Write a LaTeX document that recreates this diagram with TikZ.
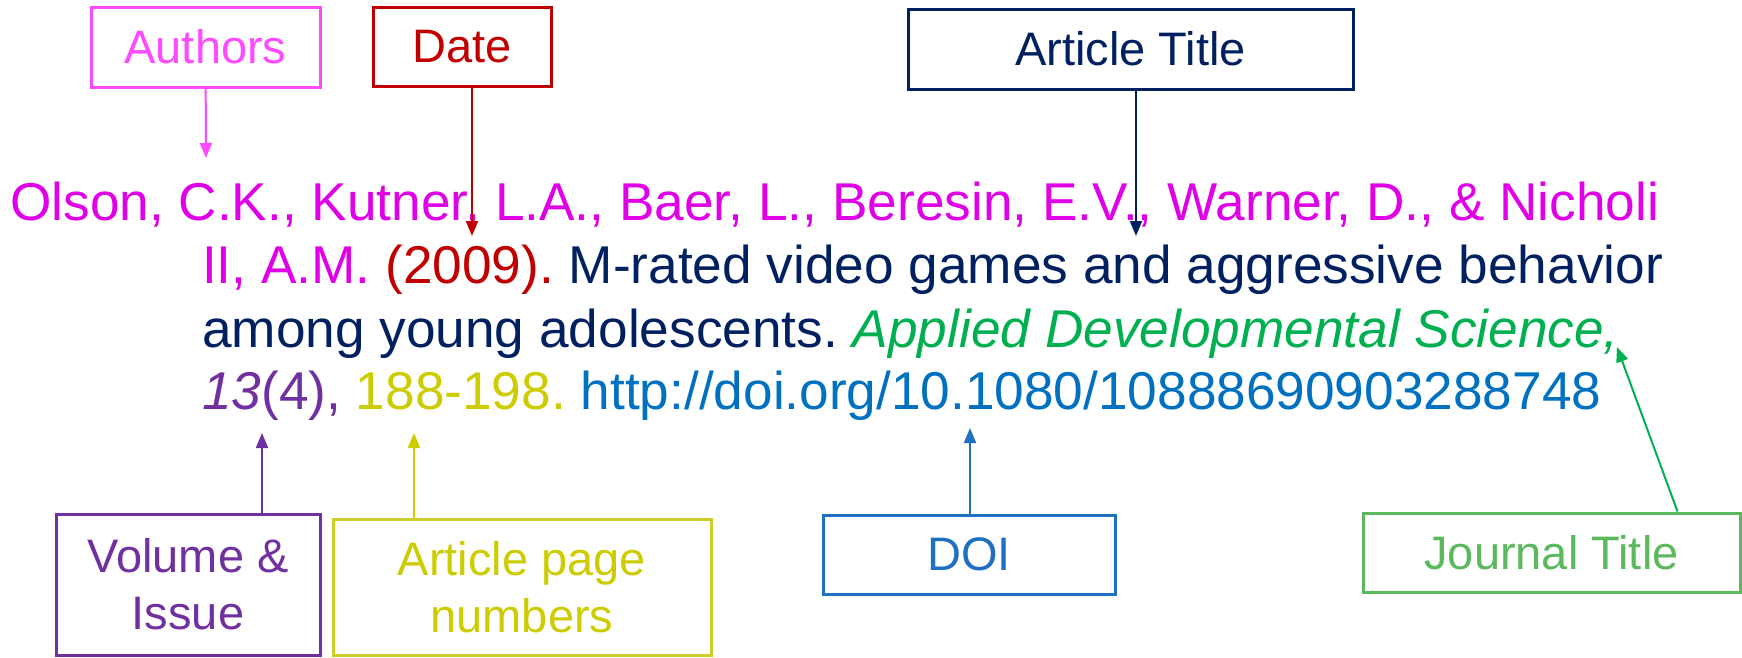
\documentclass[tikz,border=0pt]{standalone}
\usepackage{fontspec}
\setmainfont{Liberation Sans}
\usetikzlibrary{arrows.meta}
\frenchspacing
\definecolor{authcol}{HTML}{E000E8}
\definecolor{authbox}{HTML}{FF4BFF}
\definecolor{datecol}{HTML}{C00000}
\definecolor{titlecol}{HTML}{002060}
\definecolor{jourcol}{HTML}{00B050}
\definecolor{jourbox}{HTML}{5CB85C}
\definecolor{volcol}{HTML}{7030A0}
\definecolor{pagecol}{HTML}{CCCC00}
\definecolor{pagebox}{HTML}{CDCD28}
\definecolor{doicol}{HTML}{0070C0}
\definecolor{doibox}{HTML}{1F70C1}
\begin{document}
\begin{tikzpicture}[x=1pt,y=-1pt,
  box/.style={draw,line width=3pt,inner sep=0pt,align=center,font=\fontsize{47}{57}\selectfont},
  pointer/.style={line width=2pt,-{Triangle[length=15pt,width=12pt]}},
  cite/.style={anchor=base west,inner sep=0pt,font=\fontsize{53.2}{63}\selectfont}]
\useasboundingbox (0,0) rectangle (1742,657);

\node [box,authbox,minimum width=229,minimum height=80] (authors) at (205.5,47) {Authors};
\node [box,datecol,minimum width=178,minimum height=79] (date) at (462,46.5) {Date};
\node [box,titlecol,minimum width=445,minimum height=80] (title) at (1130.5,49) {Article Title};

\node [cite,authcol] (line1) at (10,220) {Olson, C.K., Kutner, L.A., Baer, L., Beresin, E.V., Warner, D., \& Nicholi};
\node [cite] (line2) at (202,283.5) {\textcolor{authcol}{II, A.M.} \textcolor{datecol}{(2009).} \textcolor{titlecol}{M-rated video games and aggressive behavior}};
\node [cite,titlecol] (line3) at (202,347) {among young adolescents. \textcolor{jourcol}{\itshape Applied Developmental Science,}};
\node [cite] (line4) at (202,409) {\textcolor{volcol}{\textit{13}(4),} \textcolor{pagecol}{188-198.} \textcolor{doicol}{http://doi.org/10.1080/10888690903288748}};

\node [box,volcol,minimum width=264,minimum height=141] (vol) at (188,584.5) {Volume \&\\Issue};
\node [box,pagebox,text=pagecol,minimum width=378,minimum height=136] (pages) at (522,587) {Article page\\numbers};
\node [box,doibox,minimum width=292,minimum height=79] (doi) at (969,554.5) {DOI};
\node [box,jourbox,minimum width=377,minimum height=79] (journal) at (1551.5,552.5) {Journal Title};

\coordinate (authend) at (206,158);
\coordinate (dateend) at (472,236);
\coordinate (titleend) at (1136,236);
\coordinate (volend) at (262,433);
\coordinate (pageend) at (414,433);
\coordinate (doiend) at (970,428);
\coordinate (jourend) at (1617,347);

\draw[pointer,authbox] (authors) -- (authend);
\draw[pointer,datecol] (date.south -| dateend) -- (dateend);
\draw[pointer,titlecol] (title.south -| titleend) -- (titleend);
\draw[pointer,volcol] (vol.north -| volend) -- (volend);
\draw[pointer,pagecol] (pages.north -| pageend) -- (pageend);
\draw[pointer,doibox] (doi.north -| doiend) -- (doiend);
\draw[pointer,jourcol] ([xshift=126pt]journal.north) -- (jourend);
\end{tikzpicture}
\end{document}
